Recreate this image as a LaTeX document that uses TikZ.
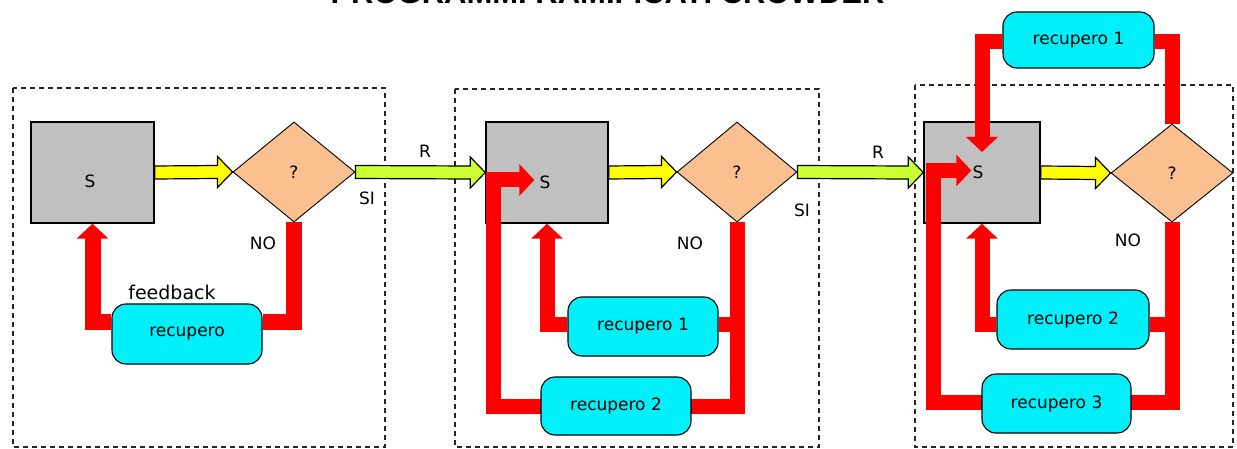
\documentclass[tikz,border=0pt]{standalone}
\usepackage{fontspec}
\setmainfont{DejaVu Sans}
\newfontfamily\titlefont{Liberation Sans}
\usetikzlibrary{shapes.geometric,arrows.meta,calc}
\pgfdeclarelayer{bg}
\pgfdeclarelayer{lines}
\pgfsetlayers{bg,lines,main}
\definecolor{sgray}{RGB}{192,192,192}
\definecolor{peach}{RGB}{250,192,143}
\definecolor{ylw}{RGB}{255,255,0}
\definecolor{lgreen}{RGB}{204,255,51}
\definecolor{rred}{RGB}{255,0,0}
\definecolor{cyanbox}{RGB}{0,240,250}
\newcommand{\myblockarrow}[3]{%
 \filldraw[barrow,fill=#3] ($(#1)+(0,-6.5)$) -- ($(#2)+(-15,-6.5)$) -- ($(#2)+(-15,-15.5)$) -- (#2) -- ($(#2)+(-15,15.5)$) -- ($(#2)+(-15,6.5)$) -- ($(#1)+(0,6.5)$) -- cycle;}
\begin{document}
\begin{tikzpicture}[x=1pt,y=-1pt,
  frame/.style={draw=black!85, line width=1.6pt, dash pattern=on 5pt off 4pt},
  sbox/.style={draw=black, line width=1.4pt, fill=sgray, minimum width=123pt, minimum height=101pt, inner sep=0pt},
  dia/.style={diamond, draw=black, line width=0.9pt, fill=peach, minimum width=122pt, minimum height=100pt, inner sep=0pt, font=\fontsize{17}{20}\selectfont},
  recbox/.style={draw=black, line width=1.1pt, fill=cyanbox, rounded corners=14pt, minimum width=150pt, minimum height=59pt, inner sep=0pt, font=\fontsize{17}{20}\selectfont},
  lbl/.style={inner sep=0pt, font=\fontsize{17}{20}\selectfont},
  redline/.style={draw=rred, line width=15pt, line join=miter},
  redarrow/.style={redline, -{Triangle[length=15pt,width=31pt]}},
  barrow/.style={draw=black, line width=1.2pt, line join=miter}]
\useasboundingbox (0,0) rectangle (1237,449);
\node[anchor=base, inner sep=0pt, font=\titlefont\bfseries\fontsize{31}{36}\selectfont] (title) at (607.5,4) {PROGRAMMI RAMIFICATI CROWDER};

\begin{pgfonlayer}{bg}
\fill[white] (0,0) rectangle (1237,449);
\draw[frame] (13,88) rectangle (385,447);
\draw[frame] (455,89) rectangle (819,447);
\draw[frame] (915,85) rectangle (1233,447);
\node[sbox] (s1) at (92.5,172.5) {};
\node[sbox, minimum width=122pt] (s2) at (547,172.5) {};
\node[sbox, minimum width=116pt] (s3) at (982,172.5) {};
\end{pgfonlayer}

% texts of S boxes
\node[lbl] (s1t) at (90,181) {S};
\node[lbl] (s2t) at (545,182) {S};
\node[lbl] (s3t) at (978,172) {S};

% decisions
\node[dia] (d1) at (294,172) {?};
\node[dia, minimum width=120pt] (d2) at (737,172) {?};
\node[dia, minimum height=98pt] (d3) at (1172,173) {?};

% recovery boxes
\node[recbox, minimum height=60pt] (r1) at (187,334) {recupero};
\node[recbox] (r21) at (643,326.5) {recupero 1};
\node[recbox, minimum height=58pt] (r22) at (616,406) {recupero 2};
\node[recbox, minimum width=151pt, minimum height=56pt] (r31) at (1078.5,40) {recupero 1};
\node[recbox, minimum width=152pt] (r32) at (1073,319.5) {recupero 2};
\node[recbox, minimum width=149pt] (r33) at (1056.5,403.5) {recupero 3};

% labels
\node[lbl] (si1) at (367,198) {SI};
\node[lbl] (si2) at (802,210) {SI};
\node[lbl] (no1) at (263,243) {NO};
\node[lbl] (no2) at (690,243) {NO};
\node[lbl] (no3) at (1128,240) {NO};
\node[lbl] (rr1) at (425,151) {R};
\node[lbl] (rr2) at (878,152) {R};
\node[lbl, font=\fontsize{19}{22}\selectfont] (fb) at (172,292) {feedback};

% block arrows
\myblockarrow{s1.east}{d1.west}{ylw}
\myblockarrow{d1.east}{s2.west}{lgreen}
\myblockarrow{s2.east}{d2.west}{ylw}
\myblockarrow{d2.east}{s3.west}{lgreen}
\myblockarrow{s3.east}{d3.west}{ylw}

% red feedback lines
\begin{pgfonlayer}{lines}
\draw[redline, line width=16pt] (d1.south) |- ($(r1.east)+(0,-12)$);
\draw[redarrow, line width=16pt] ($(r1.west)+(0,-12)$) -| (s1.south);

\draw[redarrow] (d2.south) |- (r22.east) -- (r22.west) -| ($(s2.west)+(8.5,7.5)$) -- ($(s2.west)+(49,7.5)$);
\draw[redline] ($(r21.east)+(0,-2.5)$) -- ($(d2.south |- r21.east)+(0,-2.5)$);
\draw[redarrow] ($(r21.west)+(0,-2.5)$) -| (s2.south);

\draw[redline] (d3.north) |- ($(r31.east)+(0,2)$);
\draw[redarrow] ($(r31.west)+(0,2)$) -| ($(s3.center)+(0,-20.5)$);
\draw[redarrow] (d3.south) |- ($(r33.east)+(0,-1.5)$) -- ($(r33.west)+(0,-1.5)$) -| ($(s3.west)+(10,-2)$) -- ($(s3.west)+(48,-2)$);
\draw[redline] ($(r32.east)+(0,4.5)$) -- ($(d3.south |- r32.east)+(0,4.5)$);
\draw[redarrow] ($(r32.west)+(0,4.5)$) -| (s3.south);
\end{pgfonlayer}
\end{tikzpicture}
\end{document}
